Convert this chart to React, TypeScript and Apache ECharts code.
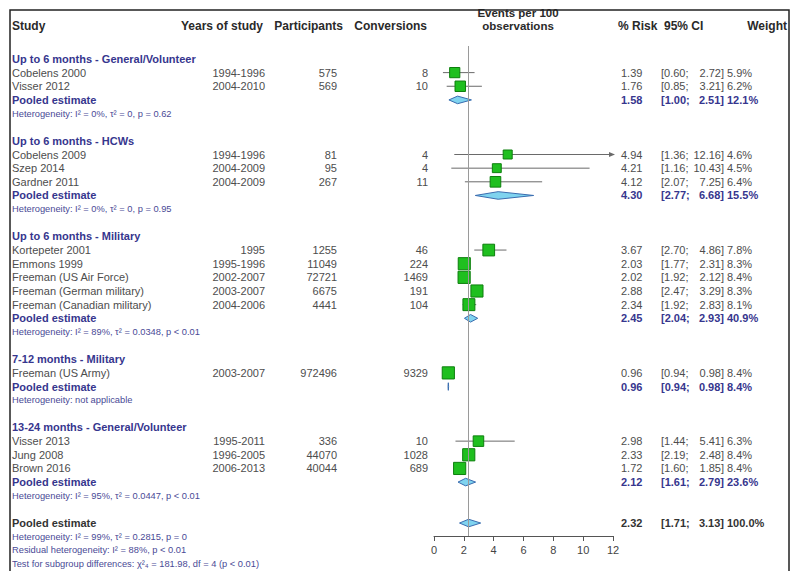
import React, { useEffect, useRef } from "react";
import * as echarts from "echarts";

// ---------- data ----------
const groupTitles = [
  "Up to 6 months - General/Volunteer",
  "Up to 6 months - HCWs",
  "Up to 6 months - Military",
  "7-12 months - Military",
  "13-24 months - General/Volunteer",
];
const studyGroup = [0, 0, 1, 1, 1, 2, 2, 2, 2, 2, 3, 4, 4, 4];
const studyNames = [
  "Cobelens 2000",
  "Visser 2012",
  "Cobelens 2009",
  "Szep 2014",
  "Gardner 2011",
  "Kortepeter 2001",
  "Emmons 1999",
  "Freeman (US Air Force)",
  "Freeman (German military)",
  "Freeman (Canadian military)",
  "Freeman (US Army)",
  "Visser 2013",
  "Jung 2008",
  "Brown 2016",
];
const studyYears = [
  "1994-1996", "2004-2010", "1994-1996", "2004-2009", "2004-2009", "1995", "1995-1996",
  "2002-2007", "2003-2007", "2004-2006", "2003-2007", "1995-2011", "1996-2005", "2006-2013",
];
const participants = [575, 569, 81, 95, 267, 1255, 11049, 72721, 6675, 4441, 972496, 336, 44070, 40044];
const conversions = [8, 10, 4, 4, 11, 46, 224, 1469, 191, 104, 9329, 10, 1028, 689];
const risk = [1.39, 1.76, 4.94, 4.21, 4.12, 3.67, 2.03, 2.02, 2.88, 2.34, 0.96, 2.98, 2.33, 1.72];
const ciLow = [0.6, 0.85, 1.36, 1.16, 2.07, 2.7, 1.77, 1.92, 2.47, 1.92, 0.94, 1.44, 2.19, 1.6];
const ciHigh = [2.72, 3.21, 12.16, 10.43, 7.25, 4.86, 2.31, 2.12, 3.29, 2.83, 0.98, 5.41, 2.48, 1.85];
const weights = [5.9, 6.2, 4.6, 4.5, 6.4, 7.8, 8.3, 8.4, 8.3, 8.1, 8.4, 6.3, 8.4, 8.4];

const pooledRisk = [1.58, 4.3, 2.45, 0.96, 2.12];
const pooledLow = [1.0, 2.77, 2.04, 0.94, 1.61];
const pooledHigh = [2.51, 6.68, 2.93, 0.98, 2.79];
const pooledWeight = [12.1, 15.5, 40.9, 8.4, 23.6];
const heterogeneity = [
  "Heterogeneity: I² = 0%, τ² = 0, p = 0.62",
  "Heterogeneity: I² = 0%, τ² = 0, p = 0.95",
  "Heterogeneity: I² = 89%, τ² = 0.0348, p < 0.01",
  "Heterogeneity: not applicable",
  "Heterogeneity: I² = 95%, τ² = 0.0447, p < 0.01",
];

const overallRisk = [2.32];
const overallLow = [1.71];
const overallHigh = [3.13];
const overallWeight = [100.0];
const overallNotes = [
  "Heterogeneity: I² = 99%, τ² = 0.2815, p = 0",
  "Residual heterogeneity: I² = 88%, p < 0.01",
  "Test for subgroup differences: χ²₄ = 181.98, df = 4 (p < 0.01)",
];

const xTicks = [0, 2, 4, 6, 8, 10, 12];
const headers = ["Study", "Years of study", "Participants", "Conversions", "Events per 100", "observations", "% Risk", "95% CI", "Weight"];

// ---------- layout / style ----------
const FONT = '"Liberation Sans", Arial, sans-serif';
const COL = {
  study: 12,
  years: 265,
  part: 337,
  conv: 428,
  risk: 621,
  ciL: 661,
  ciR: 724,
  weight: 727,
};
const C_TEXT = "#4d4d4d";
const C_GROUP = "#36368e";
const C_HET = "#4a4a96";
const C_HEAD = "#2a2a2a";
const HEAD_SIZE = 12;

type Row = { kind: string; g?: number; i?: number; text?: string };

function buildRows(): Row[] {
  const rows: Row[] = [];
  groupTitles.forEach((t, g) => {
    rows.push({ kind: "group", g, text: t });
    studyGroup.forEach((sg, i) => {
      if (sg === g) rows.push({ kind: "study", i });
    });
    rows.push({ kind: "pooled", g });
    rows.push({ kind: "het", g, text: heterogeneity[g] });
    rows.push({ kind: "blank" });
  });
  rows.push({ kind: "overall" });
  overallNotes.forEach((t) => rows.push({ kind: "note", text: t }));
  return rows;
}

const fmt2 = (v: number) => v.toFixed(2);

export default function App() {
  const ref = useRef<HTMLDivElement>(null);

  useEffect(() => {
    if (!ref.current) return;
    const chart = echarts.init(ref.current, null, { renderer: "svg" });
    const rows = buildRows();

    const t = (x: number, y: number, text: string, o: any = {}) => ({
      type: "text",
      x,
      y,
      style: {
        text,
        fill: o.fill || C_TEXT,
        fontSize: o.size || 11,
        fontWeight: o.bold ? "bold" : "normal",
        fontFamily: FONT,
        align: o.align || "left",
        verticalAlign: "middle",
        lineHeight: o.size || 11,
      },
    });
    const h = (x: number, y: number, text: string, align = "left", size = HEAD_SIZE) =>
      t(x, y, text, { bold: true, fill: C_HEAD, size, align });

    const textData: any[] = [[0, -2.38, -1], [0, -3.4, -2]];
    rows.forEach((_, idx) => textData.push([0, idx, idx]));

    const studyData = risk.map((r, i) => {
      const idx = rows.findIndex((row) => row.kind === "study" && row.i === i);
      return [r, idx, ciLow[i], ciHigh[i], weights[i]];
    });
    const diamondData: any[] = pooledRisk.map((r, g) => {
      const idx = rows.findIndex((row) => row.kind === "pooled" && row.g === g);
      return [r, idx, pooledLow[g], pooledHigh[g]];
    });
    const ovIdx = rows.findIndex((row) => row.kind === "overall");
    diamondData.push([overallRisk[0], ovIdx, overallLow[0], overallHigh[0]]);

    const option: any = {
      animation: false,
      backgroundColor: "#ffffff",
      grid: { left: 434, width: 179, top: 46, height: 490 },
      xAxis: {
        type: "value",
        min: 0,
        max: 12,
        interval: 2,
        position: "bottom",
        splitLine: { show: false },
        axisLine: { show: true, onZero: false, lineStyle: { color: "#555", width: 1 } },
        axisTick: { show: true, length: 5, lineStyle: { color: "#555" } },
        axisLabel: { color: "#444", fontSize: 11, fontFamily: FONT, margin: 8, formatter: (v: number) => (xTicks.includes(v) ? String(v) : "") },
      },
      yAxis: { type: "value", inverse: true, min: -0.95, max: 34.95, show: false },
      graphic: [
        {
          type: "rect",
          shape: { x: 10, y: 10, width: 779, height: 620 },
          style: { fill: "none", stroke: "#222", lineWidth: 1.5 },
          z: 100,
        },
      ],
      series: [
        {
          type: "custom",
          name: "text",
          clip: false,
          data: textData,
          renderItem: (params: any, api: any) => {
            const y = api.coord([0, api.value(1)])[1];
            const k = api.value(2);
            const ch: any[] = [];
            if (k === -1) {
              ch.push(h(COL.study, y, headers[0]));
              ch.push(h(263, y, headers[1], "right"));
              ch.push(h(343, y, headers[2], "right"));
              ch.push(h(427, y, headers[3], "right"));
              ch.push(h(518, y, headers[5], "center", 11.5));
              ch.push(h(618, y, headers[6]));
              ch.push(h(664, y, headers[7]));
              ch.push(h(787, y, headers[8], "right"));
              return { type: "group", children: ch };
            }
            if (k === -2) {
              ch.push(h(518, y, headers[4], "center", 11.5));
              return { type: "group", children: ch };
            }
            const row = rows[k];
            if (row.kind === "group") {
              ch.push(t(COL.study, y, row.text!, { bold: true, fill: C_GROUP }));
            } else if (row.kind === "study") {
              const i = row.i!;
              ch.push(t(COL.study, y, studyNames[i]));
              ch.push(t(COL.years, y, studyYears[i], { align: "right" }));
              ch.push(t(COL.part, y, String(participants[i]), { align: "right" }));
              ch.push(t(COL.conv, y, String(conversions[i]), { align: "right" }));
              ch.push(t(COL.risk, y, fmt2(risk[i])));
              ch.push(t(COL.ciL, y, "[" + fmt2(ciLow[i]) + ";"));
              ch.push(t(COL.ciR, y, fmt2(ciHigh[i]) + "]", { align: "right" }));
              ch.push(t(COL.weight, y, weights[i].toFixed(1) + "%"));
            } else if (row.kind === "pooled") {
              const g = row.g!;
              const o = { bold: true, fill: C_GROUP };
              ch.push(t(COL.study, y, "Pooled estimate", o));
              ch.push(t(COL.risk, y, fmt2(pooledRisk[g]), o));
              ch.push(t(COL.ciL, y, "[" + fmt2(pooledLow[g]) + ";", o));
              ch.push(t(COL.ciR, y, fmt2(pooledHigh[g]) + "]", { ...o, align: "right" }));
              ch.push(t(COL.weight, y, pooledWeight[g].toFixed(1) + "%", o));
            } else if (row.kind === "het" || row.kind === "note") {
              ch.push(t(COL.study, y, row.text!, { size: 9.3, fill: C_HET }));
            } else if (row.kind === "overall") {
              const o = { bold: true, fill: "#333" };
              ch.push(t(COL.study, y, "Pooled estimate", o));
              ch.push(t(COL.risk, y, fmt2(overallRisk[0]), o));
              ch.push(t(COL.ciL, y, "[" + fmt2(overallLow[0]) + ";", o));
              ch.push(t(COL.ciR, y, fmt2(overallHigh[0]) + "]", { ...o, align: "right" }));
              ch.push(t(COL.weight, y, overallWeight[0].toFixed(1) + "%", o));
            }
            return { type: "group", children: ch };
          },
          z: 5,
        },
        {
          type: "custom",
          name: "studies",
          clip: false,
          data: studyData,
          renderItem: (params: any, api: any) => {
            const est = api.value(0);
            const r = api.value(1);
            const lo = api.value(2);
            const hi = api.value(3);
            const w = api.value(4);
            const [cx, cy] = api.coord([est, r]);
            const xl = api.coord([Math.max(lo, 0), r])[0];
            const over = hi > 12;
            const xh = api.coord([Math.min(hi, 12), r])[0];
            const s = 4.2 * Math.sqrt(w);
            const ch: any[] = [
              {
                type: "line",
                shape: { x1: xl, y1: cy, x2: xh, y2: cy },
                style: { stroke: "#6a6a6a", lineWidth: 1 },
              },
            ];
            if (over) {
              ch.push({
                type: "polygon",
                shape: { points: [[xh + 2, cy], [xh - 4, cy - 2.5], [xh - 4, cy + 2.5]] },
                style: { fill: "#6a6a6a" },
              });
            }
            ch.push({
              type: "rect",
              shape: { x: cx - s / 2, y: cy - s / 2, width: s, height: s },
              style: { fill: "#1fbf1f", stroke: "#0d7f0d", lineWidth: 1 },
            });
            return { type: "group", children: ch };
          },
          markLine: {
            silent: true,
            symbol: "none",
            label: { show: false },
            lineStyle: { color: "#9a9a9a", type: "solid", width: 1 },
            data: [{ xAxis: overallRisk[0] }],
          },
          z: 3,
        },
        {
          type: "custom",
          name: "pooled",
          clip: false,
          data: diamondData,
          renderItem: (params: any, api: any) => {
            const r = api.value(1);
            const [cx, cy] = api.coord([api.value(0), r]);
            const xl = api.coord([api.value(2), r])[0];
            const xh = api.coord([api.value(3), r])[0];
            const hh = 3.8;
            return {
              type: "polygon",
              shape: { points: [[xl, cy], [cx, cy - hh], [xh, cy], [cx, cy + hh]] },
              style: { fill: "#7fd3ef", stroke: "#3a6db0", lineWidth: 1 },
            };
          },
          z: 4,
        },
      ],
    };
    chart.setOption(option);
    return () => chart.dispose();
  }, []);

  return (
    <div
      ref={ref}
      style={{ position: "absolute", left: 0, top: 0, width: 798, height: 571, background: "#fff" }}
    />
  );
}
